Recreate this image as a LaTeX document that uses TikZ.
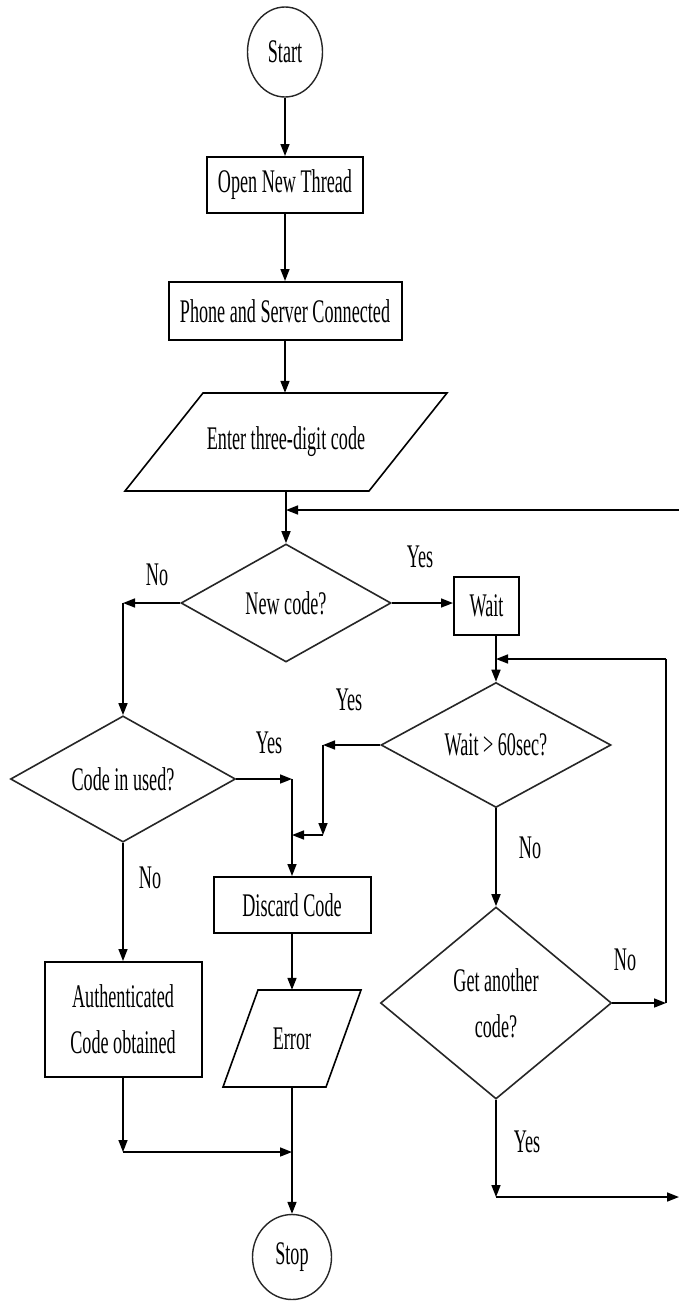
\documentclass[tikz,border=0pt]{standalone}
\usepackage{fontspec}
\newfontfamily\ff[FakeStretch=0.55]{Liberation Serif}
\usetikzlibrary{shapes.geometric,arrows.meta,calc}
\begin{document}
\begin{tikzpicture}[x=1pt,y=-1pt,
  every node/.style={font=\ff\fontsize{33}{46}\selectfont, inner sep=0pt},
  box/.style={draw, line width=2pt, rectangle, align=center},
  dec/.style={draw=black!85, line width=1.6pt, diamond, align=center},
  term/.style={draw=black!85, line width=1.4pt, ellipse},
  io/.style={rectangle, draw=none},
  ioline/.style={draw, line width=1.6pt},
  line/.style={line width=1.6pt},
  arr/.style={line, -{Triangle[length=12pt,width=9pt]}},
  lab/.style={}]
\useasboundingbox (0,0) rectangle (679,1304);
\fill[white] (0,0) rectangle (679,1304);

% nodes
\node[term, minimum width=75pt, minimum height=90pt] (start) at (285,52) {Start};
\node[box, minimum width=156pt, minimum height=56pt] (open) at (285,185) {Open New Thread};
\node[box, minimum width=233pt, minimum height=58pt] (phone) at (285,311) {Phone and Server Connected};
\node[io, minimum width=244pt, minimum height=98pt] (enter) at (286,442) {Enter three-digit code};
\draw[ioline] (125,491) -- (203,393) -- (447,393) -- (369,491) -- cycle;
\node[dec, minimum width=210pt, minimum height=118pt] (new) at (286,603) {New code?};
\node[box, minimum width=65pt, minimum height=58pt] (wait) at (486.5,606) {Wait};
\node[dec, minimum width=225pt, minimum height=115pt] (used) at (123,779) {Code in used?};
\node[dec, minimum width=230pt, minimum height=116pt] (w60) at (496,745) {Wait > 60sec?};
\node[box, minimum width=157pt, minimum height=56pt] (discard) at (292,905) {Discard Code};
\node[box, minimum width=157pt, minimum height=115pt] (auth) at (123,1019.5) {Authenticated\\Code obtained};
\node[io, minimum width=103pt, minimum height=97pt] (err) at (292,1038.5) {Error};
\draw[ioline] (223,1087) -- (258,990) -- (361,990) -- (326,1087) -- cycle;
\node[dec, minimum width=231pt, minimum height=192pt] (another) at (496,1003) {Get another\\code?};
\node[term, minimum width=79pt, minimum height=85pt] (stop) at (292,1257) {Stop};

% labels
\node[lab] (l1) at (157,575) {No};
\node[lab] (l2) at (420,557) {Yes};
\node[lab] (l3) at (349,700) {Yes};
\node[lab] (l4) at (269,743) {Yes};
\node[lab] (l5) at (150,878) {No};
\node[lab] (l6) at (530,848) {No};
\node[lab] (l7) at (625,960) {No};
\node[lab] (l8) at (527,1142) {Yes};

% coordinates
\coordinate (j1) at (286,510);
\coordinate (rin) at (679,510);
\coordinate (c1) at (123,603);
\coordinate (lt) at (666,659);
\coordinate (lb) at (666,1003);
\coordinate (c2) at (323,745);
\coordinate (c3) at (323,835);
\coordinate (c4) at (292,835);
\coordinate (c5) at (292,779);
\coordinate (c6) at (123,1152);
\coordinate (j3) at (292,1152);
\coordinate (c7) at (496,1197);
\coordinate (rout) at (679,1197);

% connectors
\draw[arr] (start.south) -- (start.south |- open.north);
\draw[arr] (open.south) -- (open.south |- phone.north);
\draw[arr] (phone.south) -- (phone.south |- enter.north);
\draw[arr] (enter.south) -- (new.north);
\draw[arr] (rin) -- (j1);
\draw[arr] (new.west) -- (c1);
\draw[arr] (c1) -- (used.north);
\draw[arr] (new.east) -- (new.east -| wait.west);
\draw[arr] (w60.north |- wait.south) -- (w60.north);
\draw[arr] (w60.south) -- (another.north);
\draw[arr] (another.east) -- (lb);
\draw[line] (lb) -- (lt);
\draw[arr] (lt) -- (lt -| w60.north);
\draw[arr] (w60.west) -- (c2);
\draw[arr] (c2) -- (c3);
\draw[arr] (c3) -- (c4);
\draw[arr] (used.east) -- (c5);
\draw[arr] (c5) -- (discard.north);
\draw[arr] (used.south) -- (auth.north);
\draw[arr] (discard.south) -- (err.north);
\draw[arr] (err.south) -- (stop.north);
\draw[arr] (auth.south) -- (c6);
\draw[arr] (c6) -- (j3);
\draw[arr] (another.south) -- (c7);
\draw[arr] (c7) -- (rout);
\end{tikzpicture}
\end{document}
